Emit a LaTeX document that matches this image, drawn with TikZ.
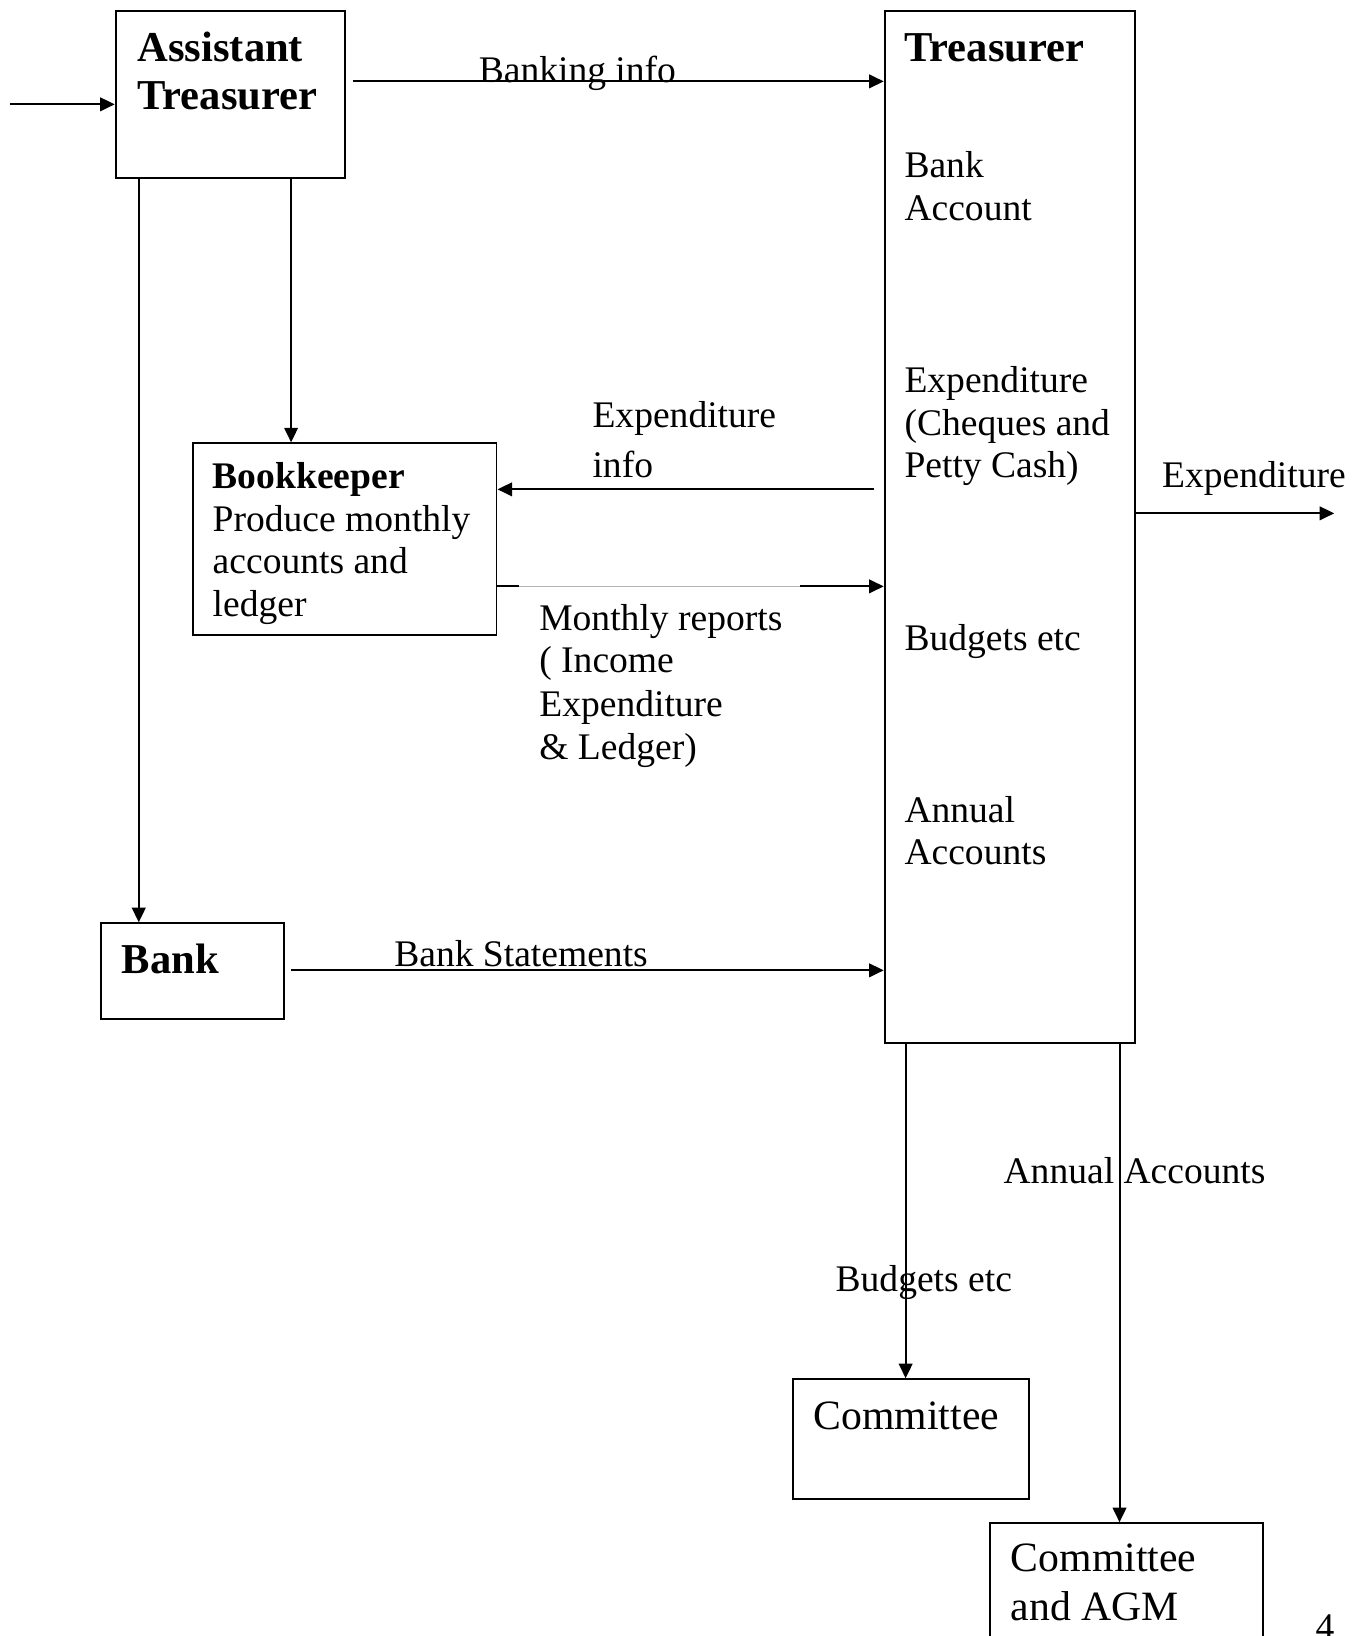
\documentclass[tikz,border=0pt]{standalone}
\usepackage{fontspec}
\setmainfont{Liberation Serif}
\usetikzlibrary{arrows.meta, calc, positioning}

\begin{document}
\begin{tikzpicture}[x=0.5pt, y=-0.5pt, line width=0.9pt]
	\tikzset	{
		box/.style={draw, inner sep=0pt, anchor=north west},
		flow/.style={line width=1pt, -{Triangle[length=7pt, width=6.5pt]}},
		txt/.style={anchor=base west, inner sep=0pt, font=\fontsize{18}{20}\selectfont},
		txtbf/.style={txt, font=\fontsize{18}{20}\selectfont\bfseries},
		big/.style={anchor=base west, inner sep=0pt, font=\fontsize{20}{22}\selectfont},
		bigbf/.style={big, font=\fontsize{20.4}{22}\selectfont\bfseries},
	}
	\useasboundingbox (0,0) rectangle (1304,1568);

	% boxes
	\node[box, minimum width=110pt, minimum height=80pt] (at) at (110,10) {};
	\node[box, minimum width=120pt, minimum height=494.5pt] (tr) at (847,10) {};
	\node[box, minimum width=145.5pt, minimum height=92pt] (bk) at (184,424) {};
	\node[box, minimum width=87.5pt, minimum height=46pt] (bank) at (96,884) {};
	\node[box, minimum width=113pt, minimum height=57.5pt] (com) at (759,1321) {};
	\node[box, minimum width=131pt, minimum height=80pt] (agm) at (948,1459) {};

	% box texts
	\node[bigbf] (atA) at (131,59) {Assistant};
	\node[bigbf] (atB) at (131,105) {Treasurer};
	\node[bigbf] (trA) at (866,59) {Treasurer};
	\node[txt] (trB) at (866,170) {Bank};
	\node[txt] (trC) at (866,211) {Account};
	\node[txt] (trD) at (866,376) {Expenditure};
	\node[txt] (trE) at (866,417) {(Cheques and};
	\node[txt] (trF) at (866,458) {Petty Cash)};
	\node[txt] (trG) at (866,623) {Budgets etc};
	\node[txt] (trH) at (866,788) {Annual};
	\node[txt] (trI) at (866,829) {Accounts};
	\node[txtbf] (bkA) at (203,468) {Bookkeeper};
	\node[txt] (bkB) at (203,509) {Produce monthly};
	\node[txt] (bkC) at (203,550) {accounts and};
	\node[txt] (bkD) at (203,591) {ledger};
	\node[bigbf] (bankA) at (116,933) {Bank};
	\node[big] (comA) at (779,1370) {Committee};
	\node[big] (agmA) at (968,1506) {Committee};
	\node[big] (agmB) at (968,1553) {and AGM};
	\node[txt] (page) at (1260,1571) {4};

	% free ends
	\coordinate (in) at (10,100);
	\coordinate (bi) at (338,78);
	\coordinate (a1) at ([xshift=11.5pt]at.south west);
	\coordinate (a2) at ([xshift=84.5pt]at.south west);
	\coordinate (e1) at (838,469);
	\coordinate (m1) at ([yshift=-69pt]bk.north east);
	\coordinate (m2) at (497,562);
	\coordinate (m3) at (767,562);
	\coordinate (x1) at ([yshift=-241pt]tr.north east);
	\coordinate (b1) at (279,930);
	\coordinate (t1) at ([xshift=10.5pt]tr.south west);
	\coordinate (t2) at ([xshift=113pt]tr.south west);

	% connectors
	\draw[flow]	(in) -- (in -| at.west);
	\draw[flow]	(bi) -- (bi -| tr.west);
	\draw[flow]	(a1) -- (a1 |- bank.north);
	\draw[flow]	(a2) -- (a2 |- bk.north);
	\draw[flow]	(e1) -- (e1 -| bk.east);
	\draw[line width=1pt]		(m1) -- (m2);
	\draw[gray!60, line width=0.5pt]	(m2) -- (m3);
	\draw[flow]	(m3) -- (m3 -| tr.west);
	\draw[flow]	(x1) -- ++(190,0);
	\draw[flow]	(b1) -- (b1 -| tr.west);
	\draw[flow]	(t1) -- (t1 |- com.north);
	\draw[flow]	(t2) -- (t2 |- agm.north);

	% connector labels
	\node[txt] (lbi) at (458,79) {Banking info};
	\node[txt] (leA) at (567,410) {Expenditure};
	\node[txt] (leB) at (567,458) {info};
	\node[txt] (lmA) at (516,604) {Monthly reports};
	\node[txt] (lmB) at (516,645) {( Income};
	\node[txt] (lmC) at (516,687) {Expenditure};
	\node[txt] (lmD) at (516,728) {\& Ledger)};
	\node[txt] (lx) at (1113,467) {Expenditure};
	\node[txt] (lbs) at (377,926) {Bank Statements};
	\node[txt] (laa) at (961,1134) {Annual Accounts};
	\node[txt] (lbe) at (800,1238) {Budgets etc};
\end{tikzpicture}
\end{document}
